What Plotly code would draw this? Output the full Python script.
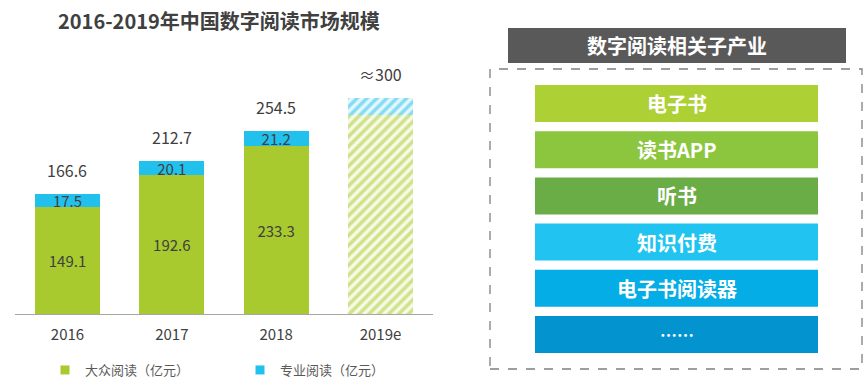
import plotly.graph_objects as go

# ---------------- data ----------------
years = ["2016", "2017", "2018", "2019e"]
mass_reading = [149.1, 192.6, 233.3, 276]        # 大众阅读（亿元）
pro_reading = [17.5, 20.1, 21.2, 24]             # 专业阅读（亿元）
mass_labels = ["149.1", "192.6", "233.3", ""]
pro_labels = ["17.5", "20.1", "21.2", ""]
totals = [166.6, 212.7, 254.5, 300]
total_labels = ["166.6", "212.7", "254.5", "≈300"]
series_names = ["大众阅读（亿元）", "专业阅读（亿元）"]
n_actual = 3   # the last year is an estimate (hatched)

title_text = "2016-2019年中国数字阅读市场规模"
panel_title = "数字阅读相关子产业"
panel_items = ["电子书", "读书APP", "听书", "知识付费", "电子书阅读器", "……"]
panel_colors = ["#add035", "#8cc63f", "#6aac45", "#21c4f0", "#04ade5", "#0393cf"]

GREEN = "#a8ca2e"
BLUE = "#22c0ec"
TXT = "#404040"
FONT = "Noto Sans CJK SC"

W, H = 864, 387

fig = go.Figure()
fig.add_trace(go.Bar(
    x=years[:n_actual], y=mass_reading[:n_actual], name=series_names[0],
    text=mass_labels[:n_actual], textposition="inside", insidetextanchor="middle",
    textfont=dict(color=TXT, size=15, family=FONT),
    marker=dict(color=GREEN, line=dict(width=0)),
    showlegend=False, hoverinfo="skip",
))
fig.add_trace(go.Bar(
    x=years[n_actual:], y=mass_reading[n_actual:], name=series_names[0],
    marker=dict(color=GREEN, line=dict(width=0),
                pattern=dict(shape="/", fgcolor=GREEN, bgcolor="#f6fae6",
                             size=7, solidity=0.5)),
    showlegend=False, hoverinfo="skip",
))
fig.add_trace(go.Bar(
    x=years[:n_actual], y=pro_reading[:n_actual], name=series_names[1],
    text=pro_labels[:n_actual], textposition="inside", insidetextanchor="middle",
    textfont=dict(color=TXT, size=15, family=FONT),
    marker=dict(color=BLUE, line=dict(width=0)),
    showlegend=False, hoverinfo="skip",
))
fig.add_trace(go.Bar(
    x=years[n_actual:], y=pro_reading[n_actual:], name=series_names[1],
    marker=dict(color=BLUE, line=dict(width=0),
                pattern=dict(shape="/", fgcolor=BLUE, bgcolor="#e4f7fd",
                             size=7, solidity=0.5)),
    showlegend=False, hoverinfo="skip",
))
# legend entries (small square keys)
for nm, col in zip(series_names, [GREEN, BLUE]):
    fig.add_trace(go.Scatter(x=[None], y=[None], mode="markers", name=nm,
                             marker=dict(symbol="square", size=9, color=col),
                             hoverinfo="skip"))

annotations = []
# on a category axis, annotation x is the category index
for i, (tot, lab) in enumerate(zip(totals, total_labels)):
    annotations.append(dict(x=i, y=tot, xref="x", yref="y", text=lab,
                            showarrow=False, yanchor="middle", yshift=24,
                            font=dict(size=16, color=TXT, family=FONT)))

def px(x):
    return x / W

def py(y):
    return 1 - y / H

# title
annotations.append(dict(x=px(56), y=py(20), xref="paper", yref="paper",
                        xanchor="left", yanchor="middle", showarrow=False,
                        text="<b>" + title_text + "</b>",
                        font=dict(size=20, color=TXT, family=FONT)))

shapes = []
shapes.append(dict(type="rect", xref="paper", yref="paper",
                   x0=px(508), x1=px(846), y0=py(63), y1=py(28),
                   fillcolor="#595959", line=dict(width=0)))
annotations.append(dict(x=px(677), y=py(45.5), xref="paper", yref="paper",
                        xanchor="center", yanchor="middle",
                        showarrow=False, text="<b>" + panel_title + "</b>",
                        font=dict(size=20, color="white", family=FONT)))
shapes.append(dict(type="rect", xref="paper", yref="paper",
                   x0=px(490), x1=px(862), y0=py(369), y1=py(69),
                   line=dict(color="#7f7f7f", width=1.3, dash="dash")))
top0, step, bh = 85, 46.2, 37
for i, (lab, col) in enumerate(zip(panel_items, panel_colors)):
    t = top0 + i * step
    shapes.append(dict(type="rect", xref="paper", yref="paper",
                       x0=px(535), x1=px(818), y0=py(t + bh), y1=py(t),
                       fillcolor=col, line=dict(width=0)))
    annotations.append(dict(x=px(676.5), y=py(t + bh / 2), xref="paper", yref="paper",
                            xanchor="center", yanchor="middle",
                            showarrow=False, text="<b>" + lab + "</b>",
                            font=dict(size=20 if lab != "……" else 17,
                                      color="white", family=FONT)))

base_px, px_per_unit, ymax = 314, 0.72, 320
fig.update_layout(
    width=W, height=H,
    margin=dict(l=0, r=0, t=0, b=0),
    paper_bgcolor="white", plot_bgcolor="white",
    barmode="stack", bargap=0.377,
    font=dict(family=FONT, color=TXT),
    uniformtext=dict(minsize=13, mode="show"),
    xaxis=dict(domain=[15.3 / W, 432.7 / W], type="category",
               categoryorder="array", categoryarray=years,
               range=[-0.5, len(years) - 0.5],
               showline=True, linecolor="#a6a6a6", linewidth=1,
               ticks="", showgrid=False, ticklabelstandoff=7,
               tickfont=dict(size=15, color=TXT, family=FONT)),
    yaxis=dict(domain=[(H - base_px) / H, (H - base_px + ymax * px_per_unit) / H],
               range=[0, ymax], visible=False),
    showlegend=True,
    legend=dict(orientation="h", traceorder="normal",
                x=px(45), y=py(370), yanchor="middle", xanchor="left",
                entrywidth=150, entrywidthmode="pixels", itemwidth=30,
                font=dict(size=13, color="#595959", family=FONT),
                bgcolor="rgba(0,0,0,0)"),
    annotations=annotations,
    shapes=shapes,
)

fig.write_html("out.html", config={"displayModeBar": False},
               post_script="document.body.style.margin='0';")
